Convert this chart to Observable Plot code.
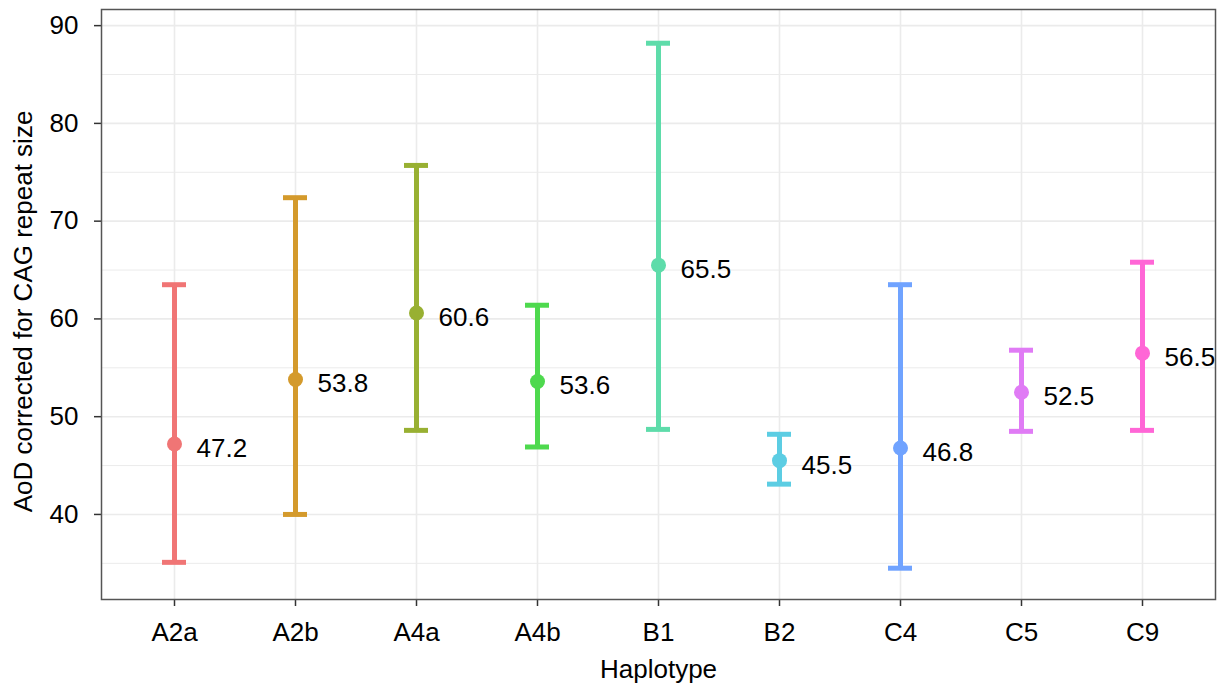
<!DOCTYPE html>
<html>
<head>
<meta charset="utf-8">
<script src="https://cdn.jsdelivr.net/npm/d3@7"></script>
<script src="https://cdn.jsdelivr.net/npm/@observablehq/plot@0.6"></script>
<style>
  html, body { margin: 0; padding: 0; background: #ffffff; }
  #chart svg { display: block; }
</style>
</head>
<body>
<div id="chart"></div>
<script>
// Age of onset (corrected for CAG repeat size) by HTT haplotype: mean with interval
const haplotypes = ["A2a", "A2b", "A4a", "A4b", "B1", "B2", "C4", "C5", "C9"];
const means      = [47.2, 53.8, 60.6, 53.6, 65.5, 45.5, 46.8, 52.5, 56.5];
const lowers     = [35.1, 40.0, 48.6, 46.9, 48.7, 43.1, 34.5, 48.5, 48.6];
const uppers     = [63.5, 72.4, 75.7, 61.4, 88.2, 48.2, 63.5, 56.8, 65.8];
const colors     = ["#F07575", "#D49A2C", "#98B032", "#4ED94E", "#5EDCAA",
                    "#5CCDE3", "#70A3FF", "#E07BF5", "#FF66D6"];

const yMajor = [40, 50, 60, 70, 80, 90];
const yMinor = [35, 45, 55, 65, 75, 85];

const rows = haplotypes.map((h, i) => ({
  hap: h, mean: means[i], lower: lowers[i], upper: uppers[i]
}));

const font = "'Liberation Sans', Arial, Helvetica, sans-serif";
const fs = 26;

const chart = Plot.plot({
  width: 1225,
  height: 685,
  marginLeft: 101,
  marginRight: 10,
  marginTop: 9,
  marginBottom: 86,
  style: { fontFamily: font, fontSize: fs + "px", color: "#000", background: "#fff" },
  x: { type: "band", domain: haplotypes, paddingInner: 0.8, paddingOuter: 0.5 },
  y: { domain: [31.3, 91.65] },
  color: { type: "ordinal", domain: haplotypes, range: colors },
  marks: [
    // panel grid
    Plot.ruleY(yMinor, { stroke: "#EBEBEB", strokeWidth: 1 }),
    Plot.ruleY(yMajor, { stroke: "#EBEBEB", strokeWidth: 1.6 }),
    Plot.ruleX(haplotypes, { x: d => d, stroke: "#EBEBEB", strokeWidth: 1.6 }),
    // axes
    Plot.axisY(yMajor, {
      tickSize: 7, tickPadding: 16, stroke: "#333", strokeWidth: 1.5,
      fill: "#000", fontSize: fs, label: null
    }),
    Plot.axisX({
      tickSize: 7, tickPadding: 16, stroke: "#333", strokeWidth: 1.5,
      fill: "#000", fontSize: fs, label: null
    }),
    // error bars with caps
    Plot.ruleX(rows, { x: "hap", y1: "lower", y2: "upper", stroke: "hap", strokeWidth: 5 }),
    Plot.tickY(rows, { x: "hap", y: "upper", stroke: "hap", strokeWidth: 5 }),
    Plot.tickY(rows, { x: "hap", y: "lower", stroke: "hap", strokeWidth: 5 }),
    // means
    Plot.dot(rows, { x: "hap", y: "mean", fill: "hap", r: 7.5 }),
    Plot.text(rows, {
      x: "hap", y: "mean", text: d => d.mean.toFixed(1),
      textAnchor: "start", dx: 22, dy: 4.5, fontSize: fs, fill: "#000"
    }),
    // axis titles
    Plot.text(["Haplotype"], {
      frameAnchor: "bottom", text: d => d, dy: 60, lineAnchor: "top",
      textAnchor: "middle", fontSize: fs, fill: "#000"
    }),
    Plot.text(["AoD corrected for CAG repeat size"], {
      frameAnchor: "left", text: d => d, dx: -88, dy: 7, rotate: -90,
      lineAnchor: "top", textAnchor: "middle", fontSize: fs, fill: "#000"
    }),
    // panel border
    Plot.frame({ stroke: "#555", strokeWidth: 1.5 })
  ]
});

document.getElementById("chart").appendChild(chart);
</script>
</body>
</html>
